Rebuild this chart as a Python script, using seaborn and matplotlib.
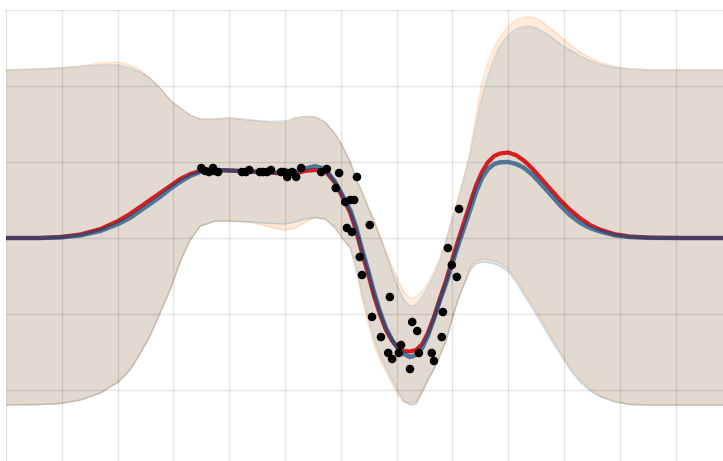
import numpy as np
import pandas as pd
import seaborn as sns
import matplotlib
matplotlib.use("Agg")
import matplotlib.pyplot as plt

# --- curve data (shared x grid) ---
x_grid = [0.00, 0.61, 0.97, 1.33, 1.69, 2.01, 2.22, 2.40, 2.58, 2.76,
          2.94, 3.12, 3.30, 3.48, 3.75, 4.01, 4.37, 4.73, 5.00, 5.18,
          5.36, 5.54, 5.72, 5.90, 6.02, 6.17, 6.27, 6.38, 6.49, 6.59,
          6.70, 6.81, 6.92, 7.03, 7.13, 7.24, 7.35, 7.46, 7.56, 7.67,
          7.78, 7.89, 7.99, 8.10, 8.21, 8.32, 8.42, 8.53, 8.64, 8.75,
          8.85, 9.00, 9.14, 9.28, 9.43, 9.57, 9.75, 9.93, 10.11, 10.29,
          10.47, 10.65, 10.91, 11.18, 11.54, 12.08, 12.85]

mean_blue = [0.000, 0.000, 0.007, 0.033, 0.092, 0.184, 0.263, 0.355, 0.447, 0.539,
             0.645, 0.737, 0.816, 0.868, 0.895, 0.888, 0.875, 0.862, 0.855, 0.868,
             0.914, 0.947, 0.908, 0.737, 0.579, 0.368, 0.158, -0.145, -0.421, -0.697,
             -0.961, -1.184, -1.342, -1.461, -1.526, -1.566, -1.539, -1.447, -1.289, -1.066,
             -0.816, -0.592, -0.355, -0.105, 0.132, 0.368, 0.592, 0.789, 0.908, 0.974,
             0.995, 1.000, 0.975, 0.925, 0.835, 0.725, 0.580, 0.430, 0.300, 0.200,
             0.130, 0.085, 0.035, 0.012, 0.002, 0.000, 0.000]

mean_red = [0.000, 0.000, 0.013, 0.046, 0.118, 0.224, 0.316, 0.408, 0.500, 0.592,
            0.684, 0.776, 0.842, 0.882, 0.895, 0.888, 0.875, 0.862, 0.842, 0.849,
            0.882, 0.895, 0.882, 0.724, 0.553, 0.329, 0.105, -0.197, -0.474, -0.750,
            -1.000, -1.211, -1.355, -1.447, -1.487, -1.493, -1.474, -1.395, -1.250, -1.039,
            -0.789, -0.553, -0.303, -0.039, 0.211, 0.461, 0.684, 0.868, 1.000, 1.079,
            1.112, 1.125, 1.090, 1.020, 0.915, 0.800, 0.650, 0.500, 0.370, 0.260,
            0.170, 0.110, 0.050, 0.020, 0.004, 0.000, 0.000]

upper_blue = [2.211, 2.224, 2.237, 2.257, 2.276, 2.276, 2.237, 2.184, 2.105, 1.974,
              1.816, 1.711, 1.618, 1.566, 1.566, 1.579, 1.553, 1.533, 1.539, 1.579,
              1.599, 1.592, 1.526, 1.368, 1.224, 1.000, 0.789, 0.605, 0.408, 0.237,
              0.013, -0.211, -0.447, -0.658, -0.816, -0.895, -0.882, -0.776, -0.645, -0.487,
              -0.289, -0.026, 0.237, 0.500, 0.803, 1.092, 1.487, 1.855, 2.132, 2.368,
              2.526, 2.671, 2.750, 2.783, 2.783, 2.737, 2.658, 2.553, 2.474, 2.395,
              2.329, 2.283, 2.243, 2.224, 2.211, 2.211, 2.211]

lower_blue = [-2.197, -2.191, -2.178, -2.132, -2.039, -1.895, -1.737, -1.526, -1.289, -0.987,
              -0.684, -0.316, -0.026, 0.158, 0.224, 0.224, 0.211, 0.191, 0.184, 0.211,
              0.250, 0.270, 0.250, 0.132, 0.000, -0.132, -0.368, -0.724, -1.053, -1.316,
              -1.539, -1.711, -1.868, -2.026, -2.145, -2.197, -2.184, -2.026, -1.868, -1.724,
              -1.539, -1.342, -1.079, -0.816, -0.605, -0.421, -0.342, -0.316, -0.322, -0.342,
              -0.368, -0.447, -0.579, -0.750, -0.921, -1.092, -1.316, -1.526, -1.737, -1.895,
              -2.013, -2.092, -2.158, -2.191, -2.197, -2.197, -2.197]

upper_orange = [2.211, 2.224, 2.237, 2.257, 2.303, 2.316, 2.270, 2.211, 2.105, 1.974,
                1.816, 1.711, 1.618, 1.566, 1.566, 1.579, 1.553, 1.520, 1.513, 1.579,
                1.599, 1.592, 1.526, 1.368, 1.224, 1.000, 0.789, 0.605, 0.408, 0.237,
                0.039, -0.171, -0.382, -0.566, -0.711, -0.789, -0.776, -0.697, -0.592, -0.447,
                -0.263, -0.026, 0.237, 0.500, 0.803, 1.158, 1.592, 2.053, 2.316, 2.513,
                2.645, 2.789, 2.868, 2.908, 2.908, 2.868, 2.763, 2.658, 2.539, 2.447,
                2.368, 2.309, 2.257, 2.224, 2.211, 2.211, 2.211]

lower_orange = [-2.197, -2.191, -2.178, -2.132, -2.039, -1.895, -1.737, -1.526, -1.289, -0.987,
                -0.684, -0.316, -0.026, 0.158, 0.224, 0.224, 0.211, 0.145, 0.105, 0.132,
                0.211, 0.270, 0.250, 0.132, 0.000, -0.132, -0.421, -0.789, -1.132, -1.395,
                -1.605, -1.763, -1.921, -2.066, -2.158, -2.171, -2.158, -2.013, -1.868, -1.724,
                -1.539, -1.342, -1.079, -0.816, -0.605, -0.382, -0.303, -0.276, -0.283, -0.303,
                -0.329, -0.408, -0.539, -0.711, -0.882, -1.053, -1.276, -1.500, -1.711, -1.868,
                -1.987, -2.079, -2.151, -2.191, -2.197, -2.197, -2.197]

# --- observed points ---
obs_x = [3.50, 3.57, 3.64, 3.71, 3.73, 3.80, 4.23, 4.30, 4.36, 4.55,
         4.61, 4.68, 4.75, 4.93, 4.98, 5.04, 5.05, 5.13, 5.20, 5.29,
         5.65, 5.75, 5.97, 6.29, 5.91, 6.08, 6.17, 6.24, 6.11, 6.20,
         6.52, 6.34, 6.38, 6.56, 6.72, 6.88, 6.85, 6.92, 7.04, 7.08,
         7.24, 7.28, 7.37, 7.40, 7.63, 7.67, 7.81, 7.83, 7.92, 7.99,
         8.08, 8.12]
obs_y = [0.921, 0.882, 0.868, 0.921, 0.882, 0.868, 0.868, 0.868, 0.895, 0.868,
         0.868, 0.868, 0.895, 0.868, 0.868, 0.803, 0.855, 0.868, 0.803, 0.921,
         0.868, 0.908, 0.855, 0.803, 0.658, 0.474, 0.500, 0.500, 0.132, 0.079,
         0.171, -0.250, -0.487, -1.039, -1.303, -0.776, -1.513, -1.592, -1.513, -1.408,
         -1.724, -1.105, -1.224, -1.513, -1.513, -1.618, -1.303, -0.974, -0.132, -0.355,
         -0.513, 0.382]

curves = pd.DataFrame({"x": x_grid, "blue": mean_blue, "red": mean_red})
points = pd.DataFrame({"x": obs_x, "y": obs_y})

sns.set_style("whitegrid", {"axes.edgecolor": "white"})

fig = plt.figure(figsize=(7.23, 4.61), dpi=100)
ax = fig.add_axes([6 / 723, 0, 717 / 723, 451 / 461])

# bands: blue first, orange on top, thin light edges
ax.fill_between(x_grid, lower_blue, upper_blue, color="#1f77b4", alpha=0.15, lw=0, zorder=0.2)
ax.fill_between(x_grid, lower_orange, upper_orange, color="#ff7f0e", alpha=0.15, lw=0, zorder=0.3)
for ys in (upper_blue, lower_blue):
    ax.plot(x_grid, ys, color="#1f77b4", alpha=0.18, lw=1.1, zorder=0.35)
for ys in (upper_orange, lower_orange):
    ax.plot(x_grid, ys, color="#ff7f0e", alpha=0.2, lw=1.1, zorder=0.34)

sns.lineplot(data=curves, x="x", y="red", ax=ax, color="#d81c1f", lw=3.0, zorder=2)
sns.lineplot(data=curves, x="x", y="blue", ax=ax, color="#124e80", lw=3.2, alpha=0.7, zorder=3)
sns.scatterplot(data=points, x="x", y="y", ax=ax, color="black", s=38,
                edgecolor="none", zorder=5)

ax.set_xlim(0, 12.85)
ax.set_ylim(-(461 - 238) / 76, 3)
ax.set_xticks(np.arange(0, 13, 1))
ax.set_yticks(np.arange(-2, 4, 1))
ax.grid(True, color="black", alpha=0.1, linewidth=1.0)
ax.set_axisbelow(False)
for gl in ax.get_xgridlines() + ax.get_ygridlines():
    gl.set_zorder(0.5)
ax.tick_params(length=0, labelleft=False, labelbottom=False)
ax.set_xlabel("")
ax.set_ylabel("")
for s in ax.spines.values():
    s.set_visible(False)

fig.savefig("out.png", dpi=100)
